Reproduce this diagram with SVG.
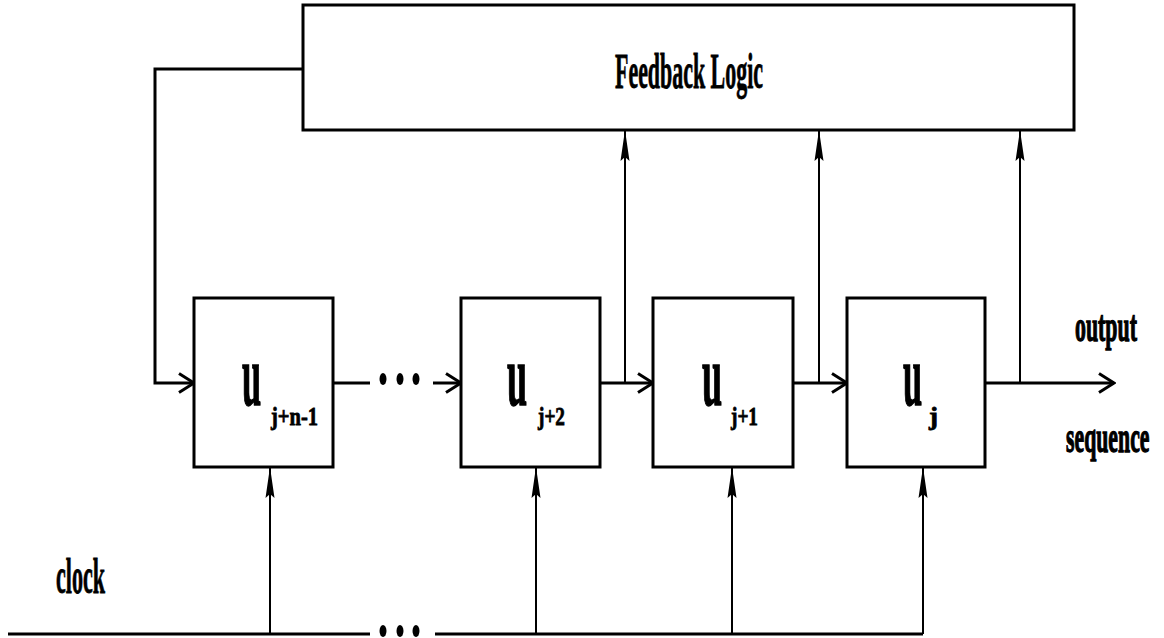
<svg xmlns="http://www.w3.org/2000/svg" width="1164" height="638" viewBox="0 0 1164 638">
<style>
.box{fill:#fff;stroke:#000;stroke-width:3}
.ln{fill:none;stroke:#000;stroke-width:3}
.thin{fill:none;stroke:#000;stroke-width:2}
.t{font-family:"Liberation Serif","Times New Roman",serif;font-weight:bold;fill:#000;stroke:#000;stroke-width:0.8}
.s{font-family:"Liberation Serif","Times New Roman",serif;font-weight:bold;fill:#000;stroke:#000;stroke-width:1.3;font-size:44px}
.u{font-family:"Liberation Serif","Times New Roman",serif;font-weight:bold;fill:#000;stroke:#000;stroke-width:1.5;font-size:86px}
.dot{fill:#000}
</style>
<defs>
<marker id="chev" viewBox="-18 -12 20 24" markerWidth="20" markerHeight="24" refX="0" refY="0" orient="auto" markerUnits="userSpaceOnUse">
<path d="M-15,-9.5 L0,0 L-15,9.5" fill="none" stroke="#000" stroke-width="3"/>
</marker>
<marker id="tri" viewBox="-32 -6 34 12" markerWidth="34" markerHeight="12" refX="0" refY="0" orient="auto" markerUnits="userSpaceOnUse">
<path d="M0,0 L-31,-4.5 L-27,0 L-31,4.5 Z" fill="#000"/>
</marker>
</defs>
<rect width="1164" height="638" fill="#fff"/>
<g id="connectors">
<path class="ln" d="M303,69 H155 V383 H194" marker-end="url(#chev)"/>
<path class="ln" d="M333,383 H370"/>
<path class="ln" d="M433,383 H461" marker-end="url(#chev)"/>
<path class="ln" d="M600,383 H653" marker-end="url(#chev)"/>
<path class="ln" d="M793,383 H847" marker-end="url(#chev)"/>
<path class="ln" d="M985,383 H1114" marker-end="url(#chev)"/>
<path class="thin" d="M625,383 V130" marker-end="url(#tri)"/>
<path class="thin" d="M819,383 V130" marker-end="url(#tri)"/>
<path class="thin" d="M1020,383 V130" marker-end="url(#tri)"/>
<path class="ln" d="M8,634 H370"/>
<path class="ln" d="M435,634 H923"/>
<path class="thin" d="M270,634 V467" marker-end="url(#tri)"/>
<path class="thin" d="M536,634 V467" marker-end="url(#tri)"/>
<path class="thin" d="M732,634 V467" marker-end="url(#tri)"/>
<path class="thin" d="M923,634 V467" marker-end="url(#tri)"/>
<ellipse class="dot" cx="383" cy="379" rx="3.5" ry="6"/>
<ellipse class="dot" cx="400" cy="379" rx="3.5" ry="6"/>
<ellipse class="dot" cx="416" cy="379" rx="3.5" ry="6"/>
<ellipse class="dot" cx="383" cy="631" rx="3.5" ry="6"/>
<ellipse class="dot" cx="400" cy="631" rx="3.5" ry="6"/>
<ellipse class="dot" cx="416" cy="631" rx="3.5" ry="6"/>
</g>
<g id="feedback">
<rect class="box" x="303" y="5" width="771" height="125"/>
<text class="t" x="615" y="88" font-size="50" textLength="148" lengthAdjust="spacingAndGlyphs">Feedback Logic</text>
</g>
<g id="u_jn1">
<rect class="box" x="194" y="298" width="139" height="169"/>
<text class="u" transform="translate(242,405) scale(0.4,1)">u</text>
<text class="t" x="271" y="425" font-size="26" textLength="47" lengthAdjust="spacingAndGlyphs">j+n-1</text>
</g>
<g id="u_j2">
<rect class="box" x="461" y="298" width="139" height="169"/>
<text class="u" transform="translate(507,405) scale(0.42,1)">u</text>
<text class="t" x="538" y="425" font-size="26" textLength="27" lengthAdjust="spacingAndGlyphs">j+2</text>
</g>
<g id="u_j1">
<rect class="box" x="653" y="298" width="140" height="169"/>
<text class="u" transform="translate(702,405) scale(0.42,1)">u</text>
<text class="t" x="731" y="425" font-size="26" textLength="27" lengthAdjust="spacingAndGlyphs">j+1</text>
</g>
<g id="u_j">
<rect class="box" x="847" y="298" width="138" height="169"/>
<text class="u" transform="translate(903,405) scale(0.4,1)">u</text>
<text class="t" x="929" y="425" font-size="26" textLength="9" lengthAdjust="spacingAndGlyphs">j</text>
</g>
<g id="labels">
<text class="s" transform="translate(1075,341) scale(0.497,1)">output</text>
<text class="s" transform="translate(1066,452) scale(0.495,1)">sequence</text>
<text class="t" x="56" y="593" font-size="50" textLength="49" lengthAdjust="spacingAndGlyphs">clock</text>
</g>
</svg>
